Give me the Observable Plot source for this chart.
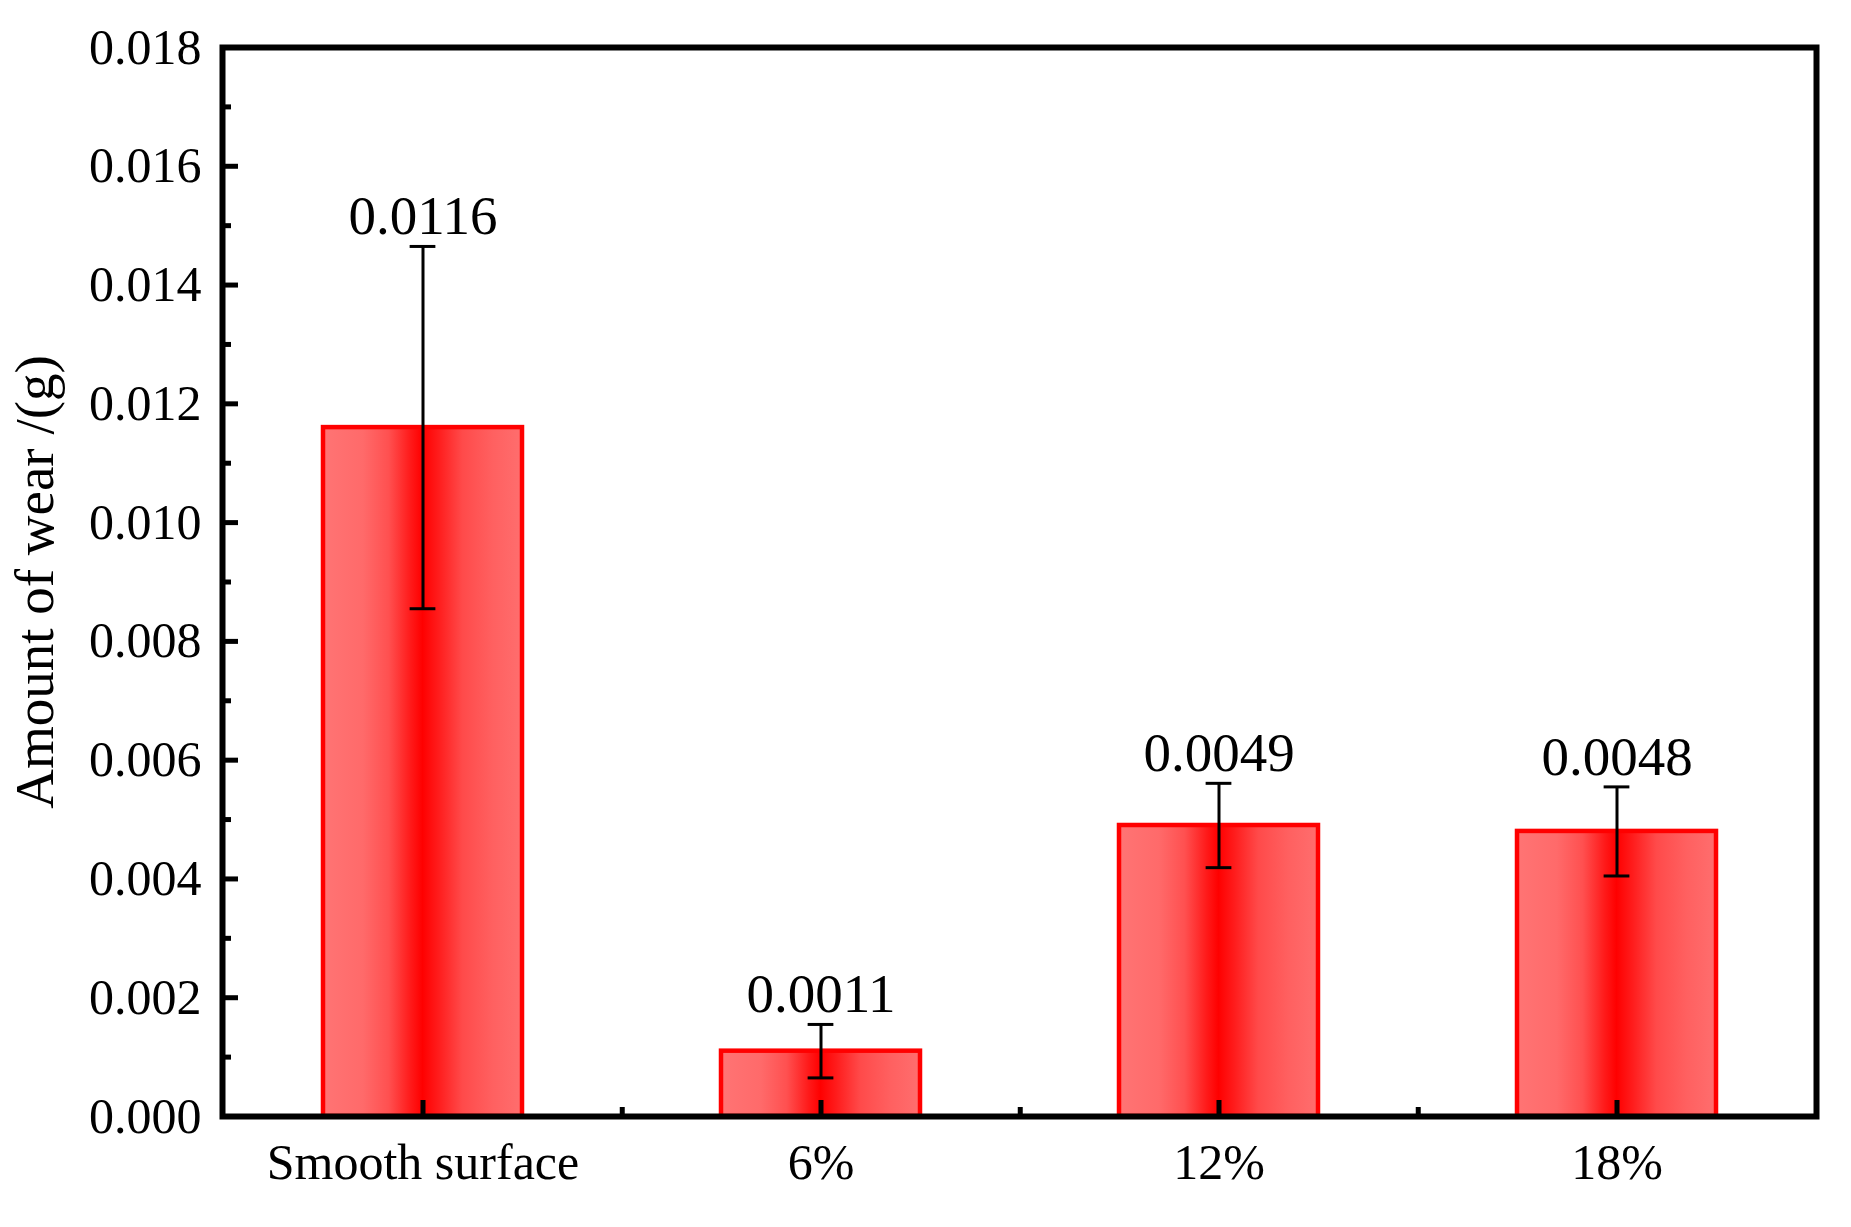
<!DOCTYPE html>
<html>
<head>
<meta charset="utf-8">
<script src="https://cdn.jsdelivr.net/npm/d3@7"></script>
<script src="https://cdn.jsdelivr.net/npm/@observablehq/plot@0.6"></script>
<style>
  html, body { margin: 0; padding: 0; background: #fff; overflow: hidden; }
  #chart svg { display: block; }
</style>
</head>
<body>
<div id="chart"></div>
<script>
// ---- data ----
const categories = ["Smooth surface", "6%", "12%", "18%"];
const values = [0.0116, 0.0011, 0.0049, 0.0048];
const errors = [0.00305, 0.00045, 0.00071, 0.00075];
const valueLabels = ["0.0116", "0.0011", "0.0049", "0.0048"];
const yMajorTicks = [0, 0.002, 0.004, 0.006, 0.008, 0.010, 0.012, 0.014, 0.016, 0.018];
const yMinorTicks = [0.001, 0.003, 0.005, 0.007, 0.009, 0.011, 0.013, 0.015, 0.017];
const yTitle = "Amount of wear /(g)";

const rows = categories.map((c, i) => ({
  cat: c, value: values[i], err: errors[i], label: valueLabels[i],
  lo: values[i] - errors[i], hi: values[i] + errors[i]
}));

// ---- layout ----
const W = 1851, H = 1227;
const mL = 222, mR = 35, mT = 47, mB = 111;
const plotW = W - mL - mR, plotH = H - mT - mB;
const padInner = 0.5, padOuter = 0.25;
const step = plotW / (categories.length - padInner + 2 * padOuter);
const bw = step * (1 - padInner);
const capW = 26;
const font = "'Liberation Serif', 'Times New Roman', serif";

const svg = Plot.plot({
  width: W, height: H,
  marginLeft: mL, marginRight: mR, marginTop: mT, marginBottom: mB,
  style: { fontFamily: font, background: "#fff", color: "#000" },
  x: { type: "band", domain: categories, paddingInner: padInner, paddingOuter: padOuter },
  y: { domain: [0, 0.018] },
  marks: [
    Plot.barY(rows, { x: "cat", y: "value", fill: "url(#barGrad)", stroke: "#ff0000", strokeWidth: 4.5 }),
    Plot.ruleX(rows, { x: "cat", y1: "lo", y2: "hi", stroke: "#000", strokeWidth: 3 }),
    Plot.tickY(rows, { x: "cat", y: "hi", stroke: "#000", strokeWidth: 3, insetLeft: (bw - capW) / 2, insetRight: (bw - capW) / 2 }),
    Plot.tickY(rows, { x: "cat", y: "lo", stroke: "#000", strokeWidth: 3, insetLeft: (bw - capW) / 2, insetRight: (bw - capW) / 2 }),
    Plot.text(rows, { x: "cat", y: "hi", text: "label", dy: -30, fontSize: 55, lineAnchor: "middle", fill: "#000" }),
    // inward ticks
    Plot.tickY(yMajorTicks, { y: d => d, insetRight: plotW - 16, stroke: "#000", strokeWidth: 5 }),
    Plot.tickY(yMinorTicks, { y: d => d, insetRight: plotW - 9, stroke: "#000", strokeWidth: 5 }),
    Plot.tickX(categories, { x: d => d, insetTop: plotH - 16, stroke: "#000", strokeWidth: 5 }),
    Plot.tickX(categories.slice(0, -1), { x: d => d, dx: step / 2, insetTop: plotH - 9, stroke: "#000", strokeWidth: 5 }),
    Plot.frame({ stroke: "#000", strokeWidth: 6 }),
    Plot.axisY({ ticks: yMajorTicks, tickFormat: d3.format(".3f"), tickSize: 0, tickPadding: 21, fontSize: 50, label: null }),
    Plot.axisX({ tickSize: 0, tickPadding: 27, fontSize: 50, label: null }),
    Plot.text([yTitle], { frameAnchor: "left", text: d => d, rotate: -90, dx: -187, fontSize: 55, textAnchor: "middle", lineAnchor: "middle", fill: "#000" })
  ]
});

const defs = document.createElementNS("http://www.w3.org/2000/svg", "defs");
defs.innerHTML = `<linearGradient id="barGrad" x1="0" x2="1" y1="0" y2="0">
  <stop offset="0" stop-color="#ff7474"/>
  <stop offset="0.2" stop-color="#ff6a6a"/>
  <stop offset="0.33" stop-color="#ff5050"/>
  <stop offset="0.44" stop-color="#ff1a1a"/>
  <stop offset="0.5" stop-color="#ff0000"/>
  <stop offset="0.58" stop-color="#ff1c1c"/>
  <stop offset="0.7" stop-color="#ff4a4a"/>
  <stop offset="0.85" stop-color="#ff6060"/>
  <stop offset="1" stop-color="#ff6e6e"/>
</linearGradient>`;
svg.insertBefore(defs, svg.firstChild);
document.getElementById("chart").appendChild(svg);
</script>
</body>
</html>
